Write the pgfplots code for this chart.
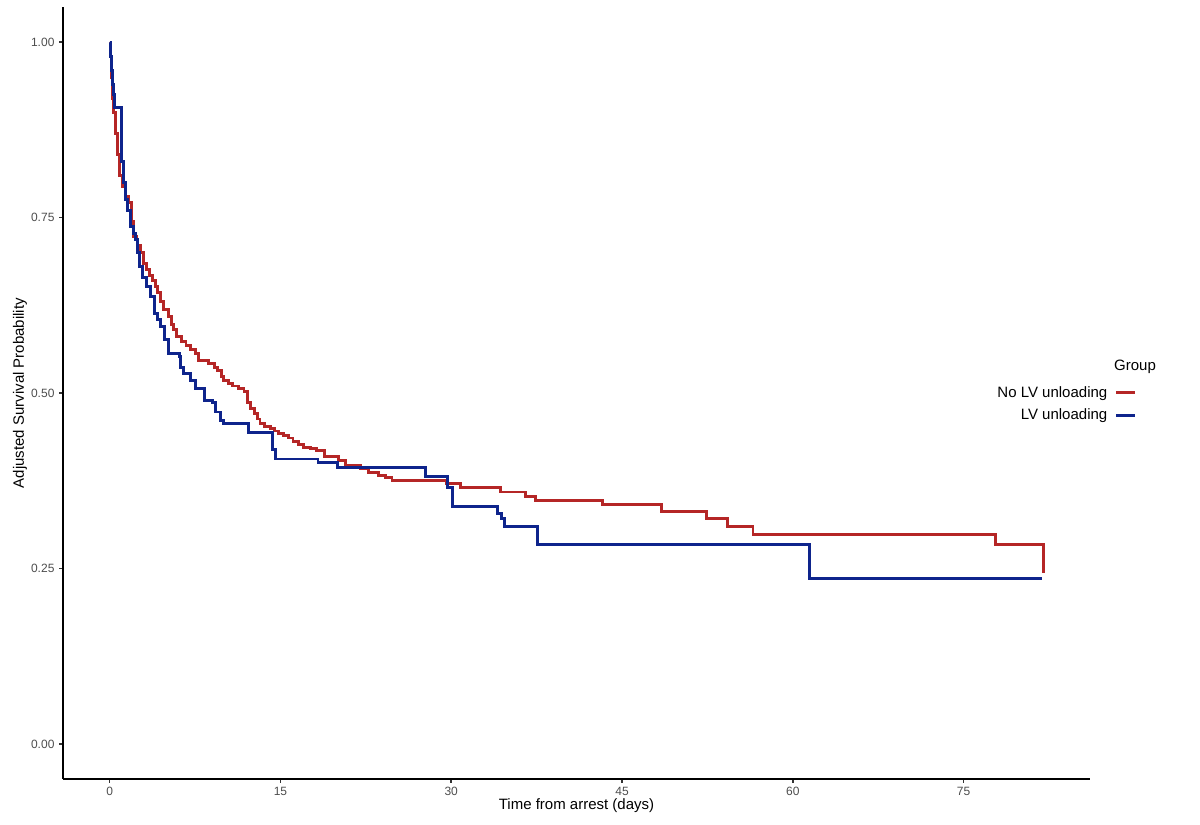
\documentclass[border=0pt]{standalone}
\usepackage{pgfplots}
\pgfplotsset{compat=1.18}
\usepackage{fontspec}
\setmainfont{Liberation Sans}
\definecolor{cred}{RGB}{181,38,38}
\definecolor{cblue}{RGB}{14,36,140}
\definecolor{grey30}{RGB}{77,77,77}
\definecolor{grey20}{RGB}{51,51,51}
\pgfplotstableread{
x y
0 1.0
0.05 0.98
0.15 0.95
0.25 0.92
0.35 0.90
0.5 0.87
0.7 0.84
0.9 0.81
1.1 0.794
1.4 0.78
1.7 0.771
1.9 0.745
2.1 0.723
2.4 0.71
2.7 0.70
3.0 0.685
3.2 0.676
3.5 0.668
3.8 0.661
4.0 0.652
4.2 0.643
4.5 0.630
4.7 0.619
5.2 0.609
5.4 0.598
5.6 0.590
5.9 0.580
6.3 0.574
6.7 0.568
7.1 0.562
7.5 0.556
7.8 0.547
8.7 0.542
9.2 0.537
9.5 0.532
9.8 0.524
10.0 0.518
10.4 0.514
10.8 0.510
11.3 0.506
11.8 0.502
12.1 0.487
12.4 0.478
12.7 0.471
13.0 0.463
13.2 0.457
13.6 0.452
14.1 0.450
14.5 0.446
14.8 0.443
15.3 0.440
15.7 0.436
16.1 0.431
16.6 0.427
17.0 0.423
17.6 0.421
18.2 0.418
18.9 0.410
20.1 0.404
20.7 0.397
22.0 0.393
22.7 0.387
23.6 0.383
24.2 0.380
24.8 0.376
29.6 0.371
30.8 0.366
34.3 0.359
36.5 0.353
37.4 0.347
43.3 0.341
48.5 0.331
52.4 0.321
54.3 0.310
56.5 0.299
77.8 0.284
82.0 0.244
}\noLV
\pgfplotstableread{
x y
0 1.0
0.05 0.98
0.15 0.96
0.25 0.94
0.35 0.925
0.45 0.907
1.0 0.87
1.05 0.83
1.2 0.80
1.4 0.776
1.6 0.76
1.8 0.737
2.1 0.728
2.3 0.719
2.45 0.70
2.6 0.68
2.9 0.665
3.2 0.652
3.6 0.637
3.9 0.614
4.2 0.605
4.5 0.595
4.8 0.576
5.2 0.557
6.1 0.552
6.2 0.537
6.5 0.528
7.1 0.518
7.5 0.507
8.3 0.490
9.0 0.486
9.3 0.473
9.7 0.461
10.0 0.457
12.2 0.444
14.3 0.419
14.6 0.406
18.3 0.401
20.0 0.394
27.7 0.381
29.7 0.366
30.1 0.338
34.1 0.329
34.4 0.321
34.7 0.310
37.6 0.284
61.5 0.236
81.9 0.236
}\LV
\begin{document}
\begin{tikzpicture}
\path[use as bounding box] (-46.2pt,-33pt) rectangle (833.8pt,571.3pt);
\begin{axis}[
  scale only axis, width=753.1pt, height=566.1pt,
  at={(0pt,0pt)}, anchor=south west,
  xmin=-4.1, xmax=86.1, ymin=-0.05, ymax=1.05,
  axis x line*=bottom, axis y line*=left,
  axis line style={line width=1.1pt, black},
  xtick={0,15,30,45,60,75},
  xticklabels={0,15,30,45,60,75},
  ytick={0,0.25,0.5,0.75,1},
  yticklabels={0.00,0.25,0.50,0.75,1.00},
  tick align=outside,
  major tick length=2.75pt,
  tick style={line width=1.1pt, grey20},
  ticklabel style={font=\fontsize{8.8}{10}\selectfont, text=grey30},
  /pgf/number format/assume math mode=true,
  xlabel={Time from arrest (days)},
  ylabel={Adjusted Survival Probability},
  label style={font=\fontsize{11}{13}\selectfont, text=black},
  xlabel style={at={(axis description cs:0.5,0)}, anchor=base, yshift=-22pt},
  ylabel style={at={(axis description cs:0,0.5)}, anchor=base, yshift=28.6pt},
  legend style={draw=none, fill=none, inner sep=0pt,
    at={(axis description cs:1.046,0.486)}, anchor=east,
    font=\fontsize{11}{13}\selectfont, row sep=5pt, column sep=4.6pt,
    nodes={inner sep=1pt}},
  legend plot pos=right,
  legend cell align=right,
  legend image code/.code={\draw[#1] (0pt,0pt) -- (14pt,0pt);},
]
\addplot[const plot, cred, line width=2.13pt] table[x=x,y=y] {\noLV};
\addlegendentry{No LV unloading}
\addplot[const plot, cblue, line width=2.13pt] table[x=x,y=y] {\LV};
\addlegendentry{LV unloading}
\end{axis}
\node[anchor=base west, inner sep=0pt, font=\fontsize{11}{13}\selectfont] at (770.7pt,299.4pt) {Group};
\end{tikzpicture}
\end{document}
